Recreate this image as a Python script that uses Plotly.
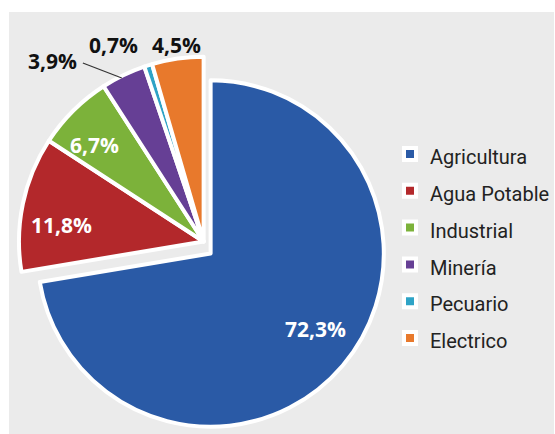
import plotly.graph_objects as go

# ---- data ----
categories = ["Agricultura", "Agua Potable", "Industrial", "Minería", "Pecuario", "Electrico"]
shares = [72.3, 11.8, 6.7, 3.9, 0.7, 4.5]
colors = ["#2a5aa6", "#b3282b", "#7cb23a", "#663f95", "#2ea3c6", "#e8792c"]
exploded = [True, False, False, False, False, False]   # main slice drawn apart from the rest
label_colors = ["white", "white", "white", "#111111", "#111111", "#111111"]

W, H = 555, 434
CLEAR = "rgba(0,0,0,0)"


def fmt(v):
    return f"{v:.1f}%".replace(".", ",")


pct_text = [fmt(v) for v in shares]
legend_labels = [f"<span style='font-size:20px'>{c}</span>" for c in categories]


def dom(cx, cy, r):
    return dict(x=[(cx - r) / W, (cx + r) / W], y=[1 - (cy + r) / H, 1 - (cy - r) / H])


def pie(cols, domain, showlegend, name):
    return go.Pie(
        labels=legend_labels, values=shares, text=pct_text, textinfo="none",
        marker=dict(colors=cols, line=dict(color="white", width=4)),
        sort=False, direction="clockwise", rotation=0,
        domain=domain, showlegend=showlegend, name=name,
        hoverinfo="label+text",
    )


fig = go.Figure()
# legend carrier (tiny, hidden under the main slice)
fig.add_trace(pie(colors, dom(300, 330, 0.3), True, "legend"))
# main (exploded) slice
fig.add_trace(pie([c if e else CLEAR for c, e in zip(colors, exploded)],
                  dom(211, 253.5, 173.5), False, "main"))
# remaining slices
fig.add_trace(pie([CLEAR if e else c for c, e in zip(colors, exploded)],
                  dom(204, 241.5, 185), False, "rest"))
# hide borders of the transparent slices
fig.data[1].marker.line.width = [4 if e else 0 for e in exploded]
fig.data[2].marker.line.width = [0 if e else 4 for e in exploded]

# value labels (pixel centres of each label)
label_pos = [(316, 329), (62, 225), (95, 145), (53, 61), (114, 45), (177, 45)]
for i, (px, py) in enumerate(label_pos):
    fig.add_annotation(
        x=px / W, y=1 - py / H, xref="paper", yref="paper",
        text=pct_text[i], showarrow=False,
        font=dict(family="Open Sans", size=21, color=label_colors[i], weight="bold"),
        xanchor="center", yanchor="middle",
    )

# leader line for 3,9%
fig.add_shape(type="line", xref="paper", yref="paper",
              x0=83 / W, y0=1 - 63 / H, x1=122 / W, y1=1 - 78 / H,
              line=dict(color="#333333", width=1.2))

# gray panel background
fig.add_shape(type="rect", xref="paper", yref="paper", layer="below",
              x0=9 / W, x1=1, y0=0, y1=1 - 12 / H,
              fillcolor="#ebebeb", line=dict(width=0))

fig.update_layout(
    width=W, height=H,
    margin=dict(l=0, r=0, t=0, b=0, pad=0),
    paper_bgcolor="white",
    plot_bgcolor="white",
    legend=dict(
        x=391 / W, xanchor="left",
        y=1 - 130.6 / H, yanchor="top",
        bgcolor="rgba(0,0,0,0)",
        font=dict(family="Roboto", size=26, color="#222222"),
    ),
)

fig.write_html("out.html")
